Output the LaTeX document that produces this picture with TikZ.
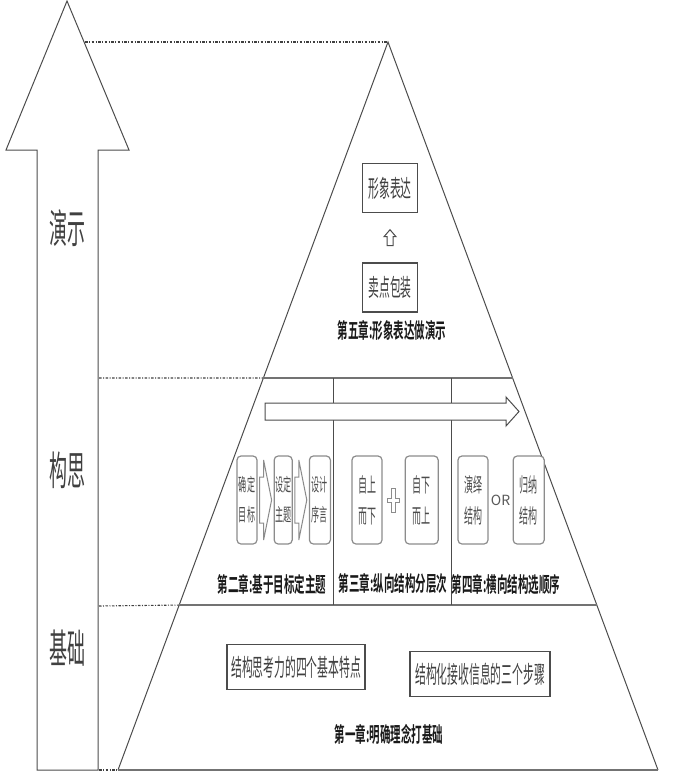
\documentclass[tikz,border=0pt]{standalone}
\usepackage{fontspec}
\setmainfont{Noto Sans CJK SC}
\newfontfamily\narrowfont[FakeStretch=0.45]{Noto Sans CJK SC}
\newfontfamily\chapfont[FakeStretch=0.5]{Noto Sans CJK SC Bold}
\usetikzlibrary{calc,positioning}

\begin{document}
\begin{tikzpicture}[x=1pt,y=-1pt,
	line/.style={draw=black!70, line width=1pt},
	tier/.style={draw=black!55, line width=2.8pt},
	guide/.style={draw=black!75, line width=1.1pt, dash pattern=on 2.5pt off 1.5pt on 1pt off 1.5pt},
	hollow/.style={line, fill=white, line join=miter},
	stage/.style={text=black!75, font=\narrowfont\fontsize{40}{42}\selectfont},
	card/.style={draw=black!70, line width=1.4pt, fill=white, text=black!75, inner sep=0pt,
		font=\narrowfont\fontsize{24}{26}\selectfont},
	pill/.style={draw=black!45, line width=1.2pt, rounded corners=4pt, fill=white, text=black!70,
		align=center, inner sep=0pt, minimum height=88pt, font=\narrowfont\fontsize{20}{31}\selectfont},
	chapter/.style={text=black!90, font=\chapfont\fontsize{21}{22}\selectfont}]
	\useasboundingbox (0,0) rectangle (697,784);
	% Define pyramid corners
	\coordinate (apex) at (388,42);
	\coordinate (bl) at (118,770);
	\coordinate (br) at (658,770);
	\coordinate (t1l) at ($(apex)!0.4615!(bl)$);
	\coordinate (t1r) at ($(apex)!0.4615!(br)$);
	\coordinate (t2l) at ($(apex)!0.7734!(bl)$);
	\coordinate (t2r) at ($(apex)!0.7734!(br)$);
	% Draw stage arrow
	\draw[line] (67,1) -- (129,150) -- (98,150) -- (98,770) -- (37,770) -- (37,150) -- (6,150) -- cycle;
	\node[stage] (demo) at (67,228) {演示};
	\node[stage] (think) at (67,470) {构思};
	\node[stage] (basis) at (67,648) {基础};
	% Draw level guides
	\draw[guide] (85,42) -- (apex);
	\draw[guide] (99,378) -- (t1l);
	\draw[guide] (99,606) -- (t2l);
	\draw[guide] (99,770) -- (bl);
	% Draw pyramid
	\draw[line] (bl) -- (apex) -- (br);
	\draw[tier] (bl) -- (br);
	\draw[tier] (t1l) -- (t1r);
	\draw[tier] (t2l) -- (t2r);
	\draw[line] (333,378) -- (333,605);
	\draw[line] (451,378) -- (451,605);
	\draw[hollow] (265,403) -- (506,403) -- (506,397) -- (519,411.5) -- (506,426) -- (506,420) -- (265,420) -- cycle;
	% Chapter 5
	\node[card, minimum width=55pt, minimum height=49pt] (image) at (390,188) {形象表达};
	\node[card, minimum width=55pt, minimum height=49pt, below=49pt of image] (sell) {卖点包装};
	\draw[hollow, shift={($(sell.north)!0.5!(image.south)$)}] (0,-8) -- (6,-1) -- (3,-1) -- (3,8) -- (-3,8) -- (-3,-1) -- (-6,-1) -- cycle;
	\node[chapter] (ch5) at (392,330) {第五章:形象表达做演示};
	% Chapter 2
	\node[pill, minimum width=20pt, font=\narrowfont\fontsize{18}{30}\selectfont] (aim) at (247,500) {确定\\目标};
	\node[pill, minimum width=18pt, font=\narrowfont\fontsize{18}{30}\selectfont, right=16pt of aim] (topic) {设定\\主题};
	\node[pill, minimum width=21pt, font=\narrowfont\fontsize{18}{30}\selectfont, right=16pt of topic] (preface) {设计\\序言};
	\foreach \a/\b in {aim/topic, topic/preface}
		\draw[hollow, draw=black!45, shift={($(\a.east)!0.5!(\b.west)$)}] (-6,-23) -- (-2,-23) -- (-2,-40) -- (6,0) -- (-2,40) -- (-2,23) -- (-6,23) -- cycle;
	\node[chapter] (ch2) at (272,584) {第二章:基于目标定主题};
	% Chapter 3
	\node[pill, minimum width=30pt] (topdown) at (367,500) {自上\\而下};
	\node[pill, minimum width=33pt, right=22pt of topdown] (bottomup) {自下\\而上};
	\draw[hollow, draw=black!45, shift={($(topdown.east)!0.5!(bottomup.west)$)}] (-2,-12) -- (2,-12) -- (2,-2) -- (6,-2) -- (6,2) -- (2,2) -- (2,12) -- (-2,12) -- (-2,2) -- (-6,2) -- (-6,-2) -- (-2,-2) -- cycle;
	\node[chapter] (ch3) at (393,584) {第三章:纵向结构分层次};
	% Chapter 4
	\node[pill, minimum width=30pt] (deduct) at (473,500) {演绎\\结构};
	\node[pill, minimum width=31pt, right=24pt of deduct] (induct) {归纳\\结构};
	\node[text=black!65, font=\fontsize{14}{16}\selectfont] (or) at ($(deduct.east)!0.5!(induct.west)$) {OR};
	\node[chapter] (ch4) at (506,584) {第四章:横向结构选顺序};
	% Chapter 1
	\node[card, minimum width=138pt, minimum height=45pt] (traits) at (296,667) {结构思考力的四个基本特点};
	\node[card, minimum width=140pt, minimum height=45pt] (steps) at (480,674) {结构化接收信息的三个步骤};
	\node[chapter] (ch1) at (389,734) {第一章:明确理念打基础};
\end{tikzpicture}
\end{document}
